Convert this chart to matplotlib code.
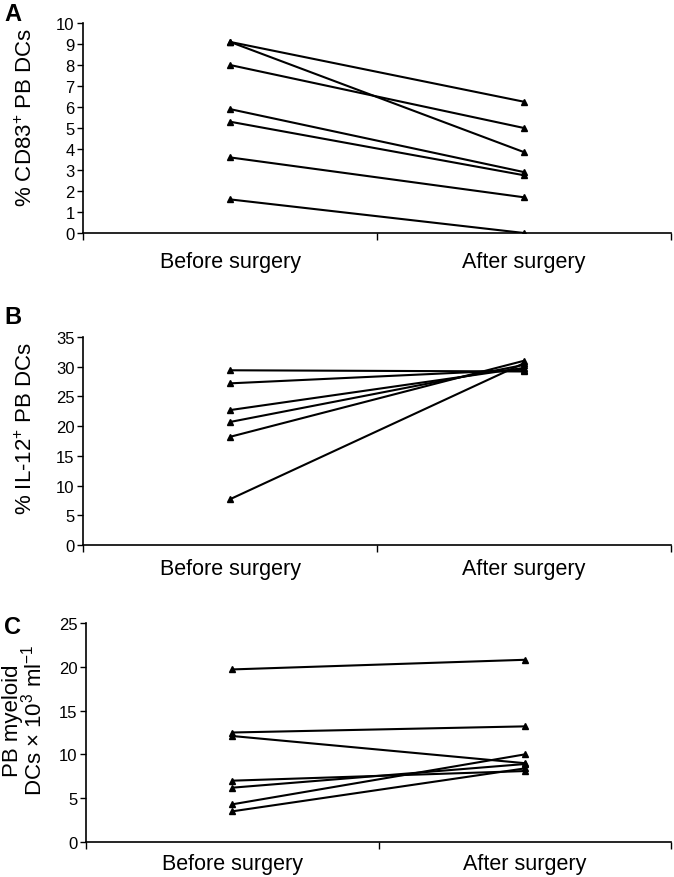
import matplotlib
matplotlib.use("Agg")
import matplotlib.pyplot as plt
import numpy as np

plt.rcParams['font.family'] = ['Liberation Sans', 'DejaVu Sans']
plt.rcParams['mathtext.fontset'] = 'custom'
plt.rcParams['mathtext.rm'] = 'Liberation Sans'

categories = ["Before surgery", "After surgery"]

a_before = [9.1, 9.1, 8.0, 5.9, 5.3, 3.6, 1.6]
a_after = [6.25, 3.85, 5.0, 2.9, 2.75, 1.7, 0.0]

b_before = [29.4, 27.2, 22.7, 20.7, 18.2, 7.7]
b_after = [29.2, 29.5, 29.8, 30.3, 31.0, 30.6]

c_before = [19.7, 12.5, 12.1, 7.0, 6.2, 4.3, 3.5]
c_after = [20.8, 13.2, 9.0, 8.1, 8.9, 10.0, 8.4]

a_ticks = list(range(0, 11, 1))
b_ticks = list(range(0, 36, 5))
c_ticks = list(range(0, 26, 5))

W, H = 674, 878
fig = plt.figure(figsize=(W / 100, H / 100), dpi=100)

def ax_at(left, top, right, bottom):
    return fig.add_axes([left / W, 1 - bottom / H, (right - left) / W, (bottom - top) / H])

panels = [
    (ax_at(83, 24, 671, 234), a_before, a_after, a_ticks, "% CD83$^{+}$ PB DCs", "A", 3, 13, (-0.078, 0.556)),
    (ax_at(83, 338, 671, 546), b_before, b_after, b_ticks, "% IL-12$^{+}$ PB DCs", "B", 306, 9, (-0.078, 0.565)),
    (ax_at(86, 624, 671, 843), c_before, c_after, c_ticks,
     "PB myeloid\nDCs \u00d7 10$^{3}$ ml$^{-1}$", "C", 616, 8, (-0.068, 0.56)),
]

for ax, bef, aft, ticks, ylab, letter, ly, xpad, lcoords in panels:
    x = np.arange(len(categories))
    for b, a in zip(bef, aft):
        ax.plot(x, [b, a], color='black', lw=1.5, marker='^', ms=4.5,
                markerfacecolor='black', markeredgecolor='black', solid_capstyle='round')
    ax.set_xlim(-0.5, 1.5)
    ax.set_ylim(ticks[0], ticks[-1])
    ax.set_yticks(ticks)
    ax.set_yticklabels([str(t) for t in ticks], fontsize=12)
    ax.set_xticks([-0.5, 0.5, 1.5])
    ax.set_xticklabels(['', '', ''])
    ax.set_xticks(x, minor=True)
    ax.set_xticklabels(categories, minor=True, fontsize=15.5)
    ax.tick_params(axis='x', which='minor', length=0, pad=xpad)
    ax.tick_params(axis='x', which='major', length=5, width=1, direction='out')
    ax.tick_params(axis='y', length=4, width=1, pad=2)
    for s in ['top', 'right']:
        ax.spines[s].set_visible(False)
    for s in ['left', 'bottom']:
        ax.spines[s].set_linewidth(1.2)
    ax.set_ylabel(ylab, fontsize=16, linespacing=0.85)
    ax.yaxis.set_label_coords(*lcoords)
    fig.text(4 / W, 1 - ly / H, letter, fontsize=17, fontweight='bold', va='top', ha='left')

fig.savefig("out.png", dpi=100)
